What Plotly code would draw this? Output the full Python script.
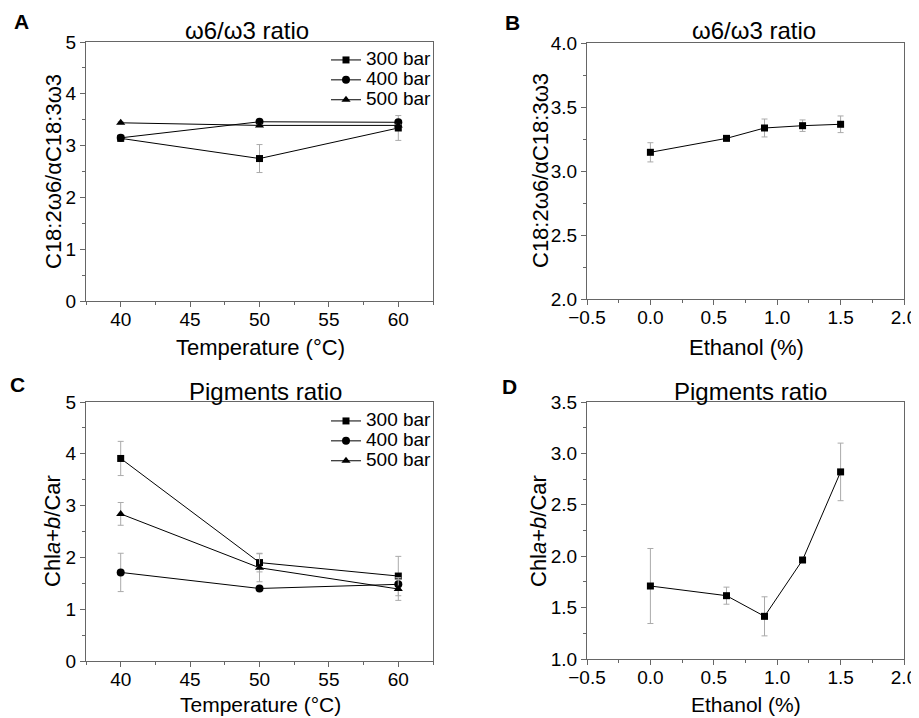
import plotly.graph_objects as go

W, H = 919, 718          # target screenshot
OFF = 8                  # page body margin in the browser
FW, FH = W - OFF, H - OFF
FONT = "Liberation Sans, Arial, sans-serif"

# ---------------- data ----------------
temps = [40, 50, 60]
pressures = ["300 bar", "400 bar", "500 bar"]

# Panel A: omega6/omega3 ratio vs temperature
a_300 = [3.14, 2.75, 3.34]
a_300_err = [0.05, 0.27, 0.24]
a_400 = [3.15, 3.46, 3.45]
a_400_err = [0.04, 0.03, 0.03]
a_500 = [3.44, 3.39, 3.39]
a_500_err = [0.02, 0.02, 0.02]

# Panel B: omega6/omega3 ratio vs ethanol
ethanol = [0.0, 0.6, 0.9, 1.2, 1.5]
b_vals = [3.146, 3.255, 3.336, 3.354, 3.365]
b_err = [0.075, 0.015, 0.07, 0.045, 0.065]

# Panel C: pigments ratio vs temperature
c_300 = [3.91, 1.90, 1.64]
c_300_err = [0.33, 0.18, 0.38]
c_400 = [1.71, 1.40, 1.48]
c_400_err = [0.37, 0.03, 0.10]
c_500 = [2.84, 1.80, 1.39]
c_500_err = [0.22, 0.27, 0.22]

# Panel D: pigments ratio vs ethanol
d_vals = [1.71, 1.616, 1.415, 1.963, 2.82]
d_err = [0.365, 0.083, 0.19, 0.01, 0.28]

symbols = ["square", "circle", "triangle-up"]
sizes = [7, 8, 8]

# ---------------- helpers ----------------
def px_x(p):
    return (p - OFF) / FW

def px_y(p):
    return 1 - (p - OFF) / FH

fig = go.Figure()

def add_series(x, y, err, name, sym, size, xa, ya, legend=None, show=False):
    fig.add_trace(go.Scatter(
        x=x, y=y, name=f"<span style='font-size:19px'>{name}</span>", mode="lines+markers",
        line=dict(color="black", width=1),
        marker=dict(symbol=sym, size=size, color="black"),
        error_y=dict(type="data", array=err, visible=True,
                     color="#aaaaaa", thickness=1, width=3),
        xaxis=xa, yaxis=ya, showlegend=show,
        legend=legend if legend else "legend",
    ))

for vals, errs, name, sym, sz in zip([a_300, a_400, a_500], [a_300_err, a_400_err, a_500_err],
                                     pressures, symbols, sizes):
    add_series(temps, vals, errs, name, sym, sz, "x", "y", "legend", True)

add_series(ethanol, b_vals, b_err, "B", "square", 7, "x2", "y2")

for vals, errs, name, sym, sz in zip([c_300, c_400, c_500], [c_300_err, c_400_err, c_500_err],
                                     pressures, symbols, sizes):
    add_series(temps, vals, errs, name, sym, sz, "x3", "y3", "legend2", True)

add_series(ethanol, d_vals, d_err, "D", "square", 7, "x4", "y4")

axis_common = dict(
    showline=True, linecolor="#666666", linewidth=1, mirror=True,
    ticks="outside", ticklen=5, tickcolor="#666666", tickwidth=1,
    showgrid=False, zeroline=False, automargin=False,
    tickfont=dict(family=FONT, size=19, color="black"),
)

dom_ax = [px_x(86), px_x(433)]
dom_bx = [px_x(587), px_x(904)]
dom_ay = [px_y(301), px_y(42)]
dom_by = [px_y(299), px_y(43)]
dom_cy = [px_y(661), px_y(402)]
dom_dy = [px_y(659), px_y(402)]

temp_x = dict(range=[37.5, 62.5], tickmode="linear", tick0=40, dtick=5, ticklabelstandoff=-4,
              minor=dict(ticks="outside", ticklen=3, dtick=2.5, tickcolor="#666666"))
eth_x = dict(range=[-0.5, 2.0], tickmode="linear", tick0=-0.5, dtick=0.5, tickformat=".1f",
             ticklabelstandoff=-4,
             minor=dict(ticks="outside", ticklen=3, dtick=0.25, tickcolor="#666666"))

legend_common = dict(xanchor="left", yanchor="top", bgcolor="rgba(0,0,0,0)",
                     font=dict(family=FONT, size=13, color="black"), tracegroupgap=0)

fig.update_layout(
    width=FW, height=FH, margin=dict(l=0, r=0, t=0, b=0, autoexpand=False),
    paper_bgcolor="white", plot_bgcolor="white",
    font=dict(family=FONT, color="black"),
    xaxis=dict(domain=dom_ax, anchor="y", **temp_x, **axis_common),
    yaxis=dict(domain=dom_ay, anchor="x", range=[0, 5], tickmode="linear", tick0=0, dtick=1,
               minor=dict(ticks="outside", ticklen=3, dtick=0.5, tickcolor="#666666"), **axis_common),
    xaxis2=dict(domain=dom_bx, anchor="y2", **eth_x, **axis_common),
    yaxis2=dict(domain=dom_by, anchor="x2", range=[2.0, 4.0], tickmode="linear", tick0=2, dtick=0.5,
                tickformat=".1f",
                minor=dict(ticks="outside", ticklen=3, dtick=0.25, tickcolor="#666666"), **axis_common),
    xaxis3=dict(domain=dom_ax, anchor="y3", **temp_x, **axis_common),
    yaxis3=dict(domain=dom_cy, anchor="x3", range=[0, 5], tickmode="linear", tick0=0, dtick=1,
                minor=dict(ticks="outside", ticklen=3, dtick=0.5, tickcolor="#666666"), **axis_common),
    xaxis4=dict(domain=dom_bx, anchor="y4", **eth_x, **axis_common),
    yaxis4=dict(domain=dom_dy, anchor="x4", range=[1.0, 3.5], tickmode="linear", tick0=1, dtick=0.5,
                tickformat=".1f",
                minor=dict(ticks="outside", ticklen=3, dtick=0.25, tickcolor="#666666"), **axis_common),
    legend=dict(x=px_x(326), y=px_y(45), **legend_common),
    legend2=dict(x=px_x(326), y=px_y(406), **legend_common),
)

def ann(text, x, y, size=20, bold=False, angle=0):
    fig.add_annotation(
        text=f"<b>{text}</b>" if bold else text,
        x=px_x(x), y=px_y(y), xref="paper", yref="paper",
        xanchor="center", yanchor="middle", showarrow=False, textangle=angle,
        font=dict(family=FONT, size=size, color="black"),
    )

# panel letters
ann("A", 21, 22, 21, True)
ann("B", 512, 23, 21, True)
ann("C", 17, 385, 21, True)
ann("D", 509, 387, 21, True)

# panel titles
ann("ω6/ω3 ratio", 247, 31, 24)
ann("ω6/ω3 ratio", 754, 31, 24)
ann("Pigments ratio", 265, 392, 24)
ann("Pigments ratio", 750, 392, 24)

# axis titles
ann("Temperature (°C)", 260, 347, 22)
ann("Ethanol (%)", 746, 347, 22)
ann("Temperature (°C)", 260, 704, 21)
ann("Ethanol (%)", 746, 704, 21)

ann("C18:2ω6/αC18:3ω3", 53, 172, 22, angle=-90)
ann("C18:2ω6/αC18:3ω3", 540, 171, 22, angle=-90)
ann("Chl<i>a</i>+<i>b</i>/Car", 52, 531, 22, angle=-90)
ann("Chl<i>a</i>+<i>b</i>/Car", 538, 531, 22, angle=-90)

fig.write_html("out.html")
